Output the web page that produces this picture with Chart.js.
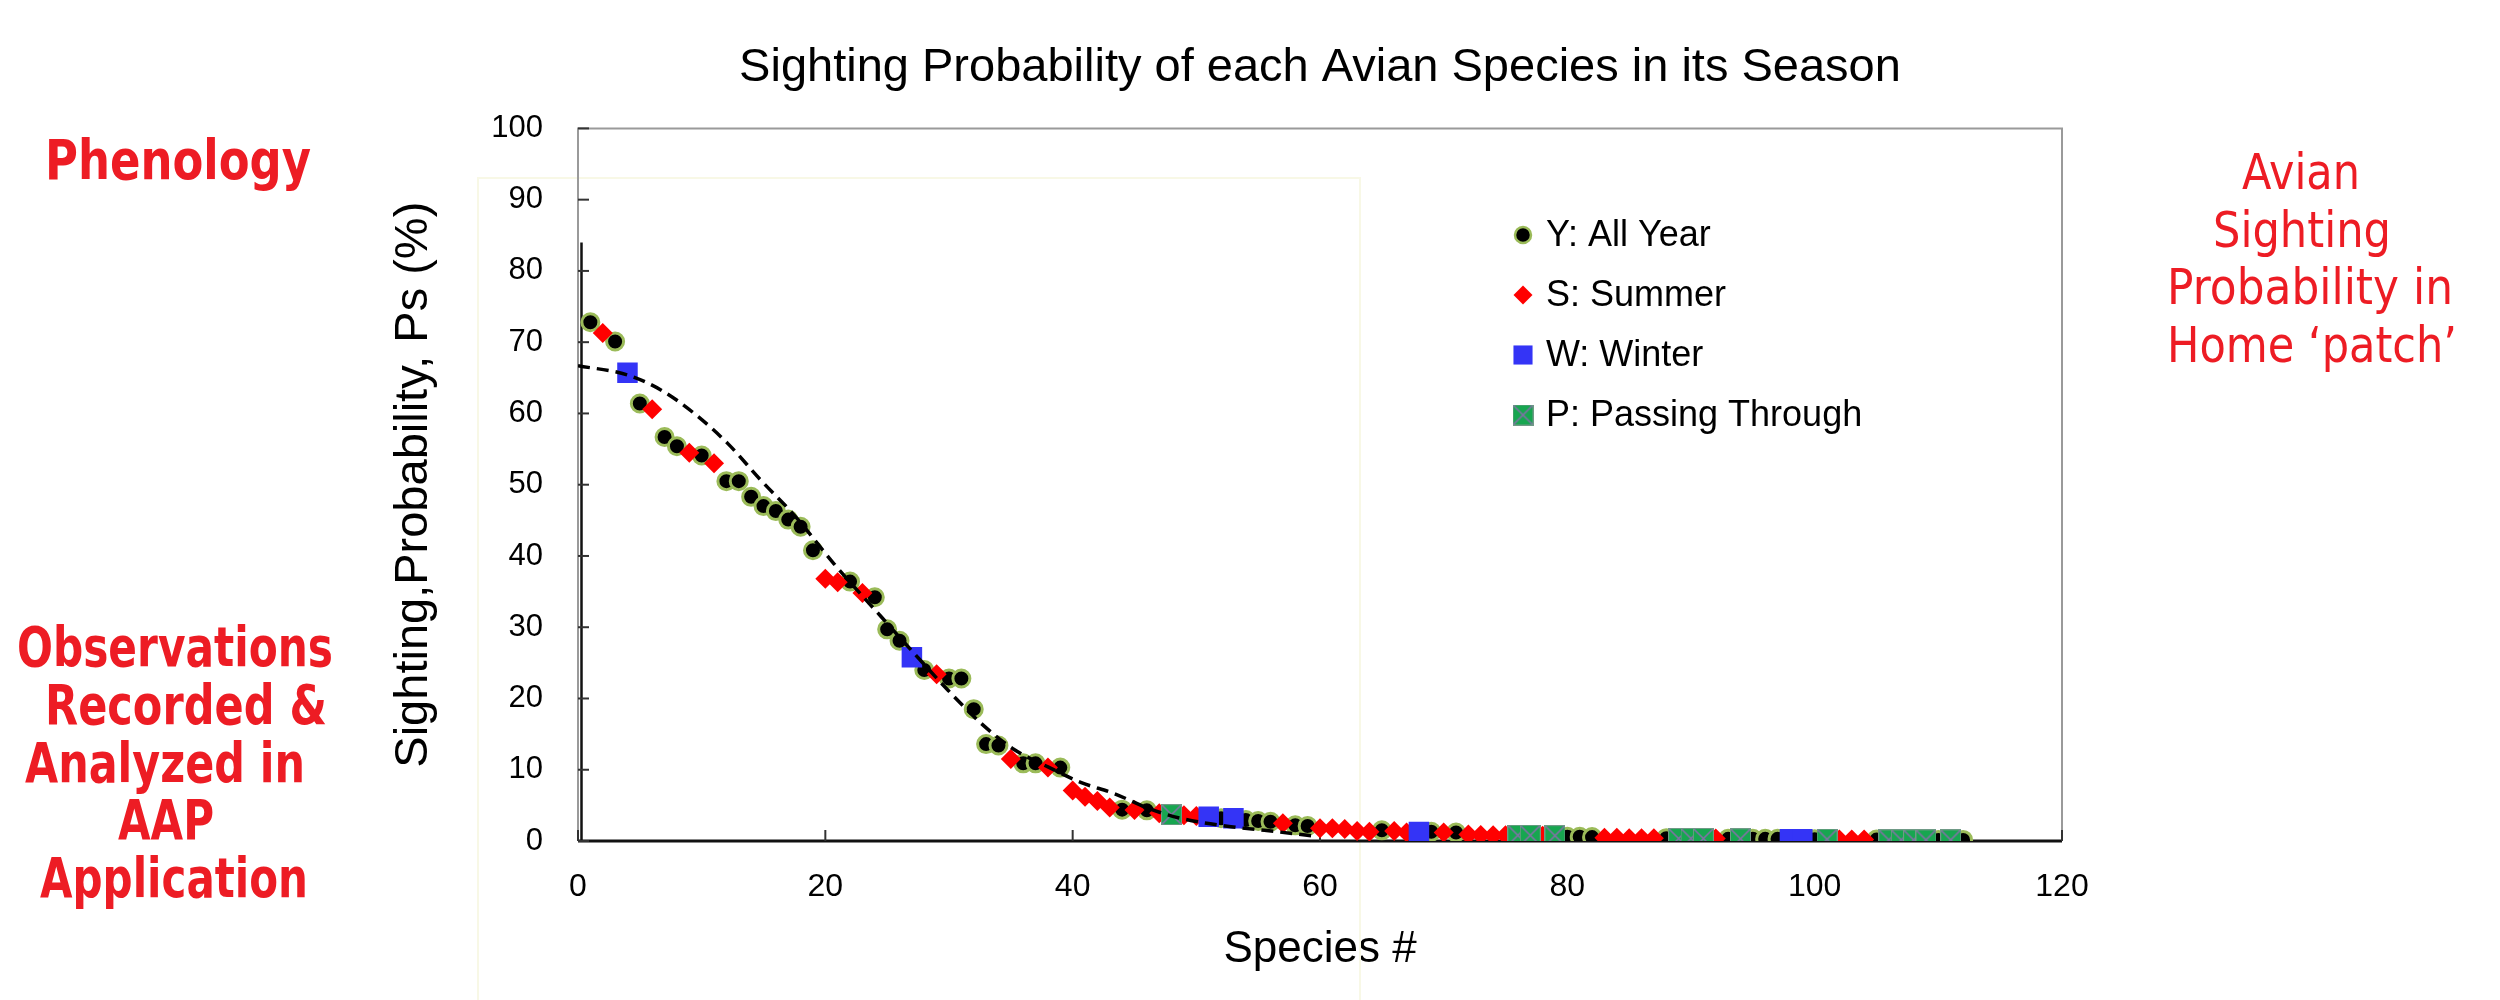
<!DOCTYPE html>
<html>
<head>
<meta charset="utf-8">
<title>Sighting Probability</title>
<script src="https://cdn.jsdelivr.net/npm/chart.js@4.4.1/dist/chart.umd.min.js"></script>
<style>
  html, body { margin: 0; padding: 0; background: #fff; }
  #wrap { width: 2500px; height: 1000px; }
</style>
</head>
<body>
<div id="wrap"><canvas id="chart" width="2500" height="1000"></canvas></div>
<script>
// species # and sighting probability (%) per season group
const yearSpecies = [1, 3, 5, 7, 8, 10, 12, 13, 14, 15, 16, 17, 18, 19, 22, 24, 25, 26, 28, 30, 31, 32, 33, 34, 36, 37, 39, 44, 46, 52, 54, 55, 56, 58, 59, 65, 69, 71, 80, 81, 82, 88, 93, 95, 96, 97, 100, 105, 110, 112];
const yearProb = [72.8, 70.1, 61.4, 56.7, 55.4, 54.1, 50.5, 50.5, 48.3, 47.0, 46.3, 45.1, 44.1, 40.8, 36.4, 34.2, 29.7, 28.1, 24.0, 22.8, 22.8, 18.5, 13.6, 13.4, 10.9, 10.9, 10.3, 4.4, 4.3, 3.2, 2.95, 2.8, 2.7, 2.2, 2.1, 1.5, 1.3, 1.2, 0.6, 0.6, 0.55, 0.4, 0.3, 0.3, 0.3, 0.3, 0.25, 0.2, 0.15, 0.15];

const summerSpecies = [2, 6, 9, 11, 20, 21, 23, 29, 35, 38, 40, 41, 42, 43, 45, 47, 49, 50, 57, 60, 61, 62, 63, 64, 66, 67, 70, 72, 73, 74, 75, 78, 83, 84, 85, 86, 87, 92, 102, 103, 104];
const summerProb = [71.3, 60.6, 54.5, 53.0, 36.8, 36.3, 34.8, 23.4, 11.5, 10.3, 7.1, 6.2, 5.6, 4.7, 4.35, 3.9, 3.6, 3.5, 2.5, 1.8, 1.8, 1.7, 1.4, 1.3, 1.4, 1.2, 1.2, 0.9, 0.85, 0.8, 0.8, 0.75, 0.45, 0.45, 0.4, 0.4, 0.4, 0.35, 0.2, 0.2, 0.2];

const winterSpecies = [4, 27, 51, 53, 68, 98, 99];
const winterProb = [65.7, 25.8, 3.4, 3.2, 1.25, 0.25, 0.25];

const passSpecies = [48, 76, 77, 79, 89, 90, 91, 94, 101, 106, 107, 108, 109, 111];
const passProb = [3.7, 0.8, 0.8, 0.75, 0.35, 0.35, 0.35, 0.3, 0.25, 0.15, 0.15, 0.15, 0.15, 0.15];

// dashed trend line
const trendX = [0, 4, 6.7, 9.4, 12.1, 14.8, 17.5, 20.7, 24.5, 27.2, 29.9, 32.6, 35.3, 38, 40.7, 43.3, 46.1, 48.7, 52.8, 55.5, 59.5];
const trendY = [66.7, 65.4, 63.3, 60.0, 55.8, 50.6, 45.7, 38.9, 31.5, 26.3, 21.2, 16.5, 12.8, 10.4, 8.2, 6.7, 4.6, 3.2, 2.0, 1.5, 0.7];

const xTicks = [0, 20, 40, 60, 80, 100, 120];
const yTicks = [0, 10, 20, 30, 40, 50, 60, 70, 80, 90, 100];

const toPoints = (xs, ys) => xs.map((x, i) => ({x: x, y: ys[i]}));

function passMarker(size) {
    const c = document.createElement('canvas');
    c.width = size;
    c.height = size;
    const g = c.getContext('2d');
    g.fillStyle = '#17a650';
    g.fillRect(0, 0, size, size);
    g.strokeStyle = '#8470a8';
    g.lineWidth = 1.6;
    g.beginPath();
    g.moveTo(1, 1); g.lineTo(size - 1, size - 1);
    g.moveTo(size - 1, 1); g.lineTo(1, size - 1);
    g.stroke();
    g.strokeStyle = '#6f9a86';
    g.lineWidth = 1;
    g.strokeRect(0.5, 0.5, size - 1, size - 1);
    return c;
}
const passImg = passMarker(21);

const redText = '#ed1c24';

const decor = {
    id: 'decor',
    beforeDatasetsDraw(chart) {
        const {ctx, chartArea: a, scales: {x, y}} = chart;
        ctx.save();
        // faint frame left over behind the plot
        ctx.strokeStyle = '#f8f8e6';
        ctx.lineWidth = 2;
        ctx.strokeRect(478, 178, 882, 840);
        // plot box
        ctx.strokeStyle = '#9a9a9a';
        ctx.lineWidth = 2;
        ctx.beginPath();
        ctx.moveTo(a.left, a.bottom);
        ctx.lineTo(a.left, a.top);
        ctx.lineTo(a.right, a.top);
        ctx.lineTo(a.right, a.bottom);
        ctx.stroke();
        // x axis
        ctx.strokeStyle = '#111';
        ctx.lineWidth = 3;
        ctx.beginPath();
        ctx.moveTo(a.left, a.bottom);
        ctx.lineTo(a.right, a.bottom);
        ctx.stroke();
        // inner y axis line
        const ix = x.getPixelForValue(0) + 3.5;
        ctx.lineWidth = 2.5;
        ctx.beginPath();
        ctx.moveTo(ix, y.getPixelForValue(84));
        ctx.lineTo(ix, a.bottom);
        ctx.stroke();
        // inward ticks
        ctx.strokeStyle = '#333';
        ctx.lineWidth = 2;
        y.ticks.forEach(t => {
            const py = y.getPixelForValue(t.value);
            ctx.beginPath();
            ctx.moveTo(a.left, py);
            ctx.lineTo(a.left + 11, py);
            ctx.stroke();
        });
        x.ticks.forEach(t => {
            const px = x.getPixelForValue(t.value);
            ctx.beginPath();
            ctx.moveTo(px, a.bottom);
            ctx.lineTo(px, a.bottom - 11);
            ctx.stroke();
        });
        ctx.restore();
    },
    afterDraw(chart) {
        const ctx = chart.ctx;
        ctx.save();
        // legend inside the plot
        const sizes = [8, 9.5, 13.5, 10];
        for (let i = 0; i < 4; i++) {
            const ds = chart.data.datasets[i];
            const ly = 235 + i * 60;
            ctx.fillStyle = ds.backgroundColor;
            ctx.strokeStyle = ds.borderColor || ds.backgroundColor;
            ctx.lineWidth = i === 0 ? 2.5 : 0;
            Chart.helpers.drawPoint(ctx, {
                pointStyle: ds.pointStyle,
                rotation: 0,
                radius: sizes[i],
                borderWidth: i === 0 ? 2.5 : 0
            }, 1523, ly);
            ctx.fillStyle = '#000';
            ctx.font = "36px 'Liberation Sans', Arial, sans-serif";
            ctx.textAlign = 'left';
            ctx.textBaseline = 'middle';
            ctx.fillText(ds.label, 1546, ly + 1);
        }
        // red side notes
        ctx.fillStyle = redText;
        ctx.textAlign = 'center';
        ctx.textBaseline = 'alphabetic';
        ctx.font = "bold 56px 'DejaVu Sans', sans-serif";
        ctx.fillText('Phenology', 178, 179, 266);
        const leftLines = [
            ['Observations', 175, 666, 316],
            ['Recorded &', 186, 724, 282],
            ['Analyzed in', 165, 782, 280],
            ['AAP', 166, 839, 96],
            ['Application', 174, 897, 268]
        ];
        leftLines.forEach(l => ctx.fillText(l[0], l[1], l[2], l[3]));
        ctx.font = "49px 'DejaVu Sans', sans-serif";
        const rightLines = [
            ['Avian', 2301, 189, 118],
            ['Sighting', 2302, 247, 178],
            ['Probability in', 2310, 304, 286],
            ['Home \u2018patch\u2019', 2312, 362, 290]
        ];
        rightLines.forEach(l => ctx.fillText(l[0], l[1], l[2], l[3]));
        ctx.restore();
    }
};

Chart.defaults.font.family = "'Liberation Sans', Arial, sans-serif";
Chart.defaults.color = '#000';

const ctx = document.getElementById('chart').getContext('2d');
const myChart = new Chart(ctx, {
    type: 'scatter',
    data: {
        datasets: [{
            label: 'Y: All Year',
            data: toPoints(yearSpecies, yearProb),
            pointStyle: 'circle',
            backgroundColor: '#000',
            borderColor: '#9bbb59',
            borderWidth: 3,
            pointRadius: 8.5,
            order: 4
        }, {
            label: 'S: Summer',
            data: toPoints(summerSpecies, summerProb),
            pointStyle: 'rectRot',
            backgroundColor: '#ff0000',
            borderWidth: 0,
            pointRadius: 10,
            order: 3
        }, {
            label: 'W: Winter',
            data: toPoints(winterSpecies, winterProb),
            pointStyle: 'rect',
            backgroundColor: '#3434f6',
            borderWidth: 0,
            pointRadius: 14.5,
            order: 2
        }, {
            label: 'P: Passing Through',
            data: toPoints(passSpecies, passProb),
            pointStyle: passImg,
            backgroundColor: '#17a650',
            borderWidth: 0,
            pointRadius: 10,
            order: 1
        }, {
            label: 'trend',
            data: toPoints(trendX, trendY),
            showLine: true,
            borderColor: '#000',
            borderWidth: 3.5,
            borderDash: [12, 7],
            pointRadius: 0,
            cubicInterpolationMode: 'monotone',
            fill: false,
            order: 0
        }]
    },
    options: {
        responsive: false,
        devicePixelRatio: 1,
        animation: false,
        layout: {
            padding: {left: 386, right: 438, top: 0, bottom: 0}
        },
        plugins: {
            legend: {display: false},
            tooltip: {enabled: false},
            title: {
                display: true,
                text: 'Sighting Probability of each Avian Species in its Season',
                fullSize: false,
                color: '#000',
                font: {size: 47, weight: 'normal'},
                padding: {top: 40, bottom: 32}
            }
        },
        scales: {
            x: {
                type: 'linear',
                min: 0,
                max: 120,
                afterBuildTicks: s => { s.ticks = xTicks.map(v => ({value: v})); },
                grid: {display: false, drawTicks: false},
                border: {display: false},
                ticks: {font: {size: 32}, padding: 27, color: '#000'},
                title: {
                    display: true,
                    text: 'Species #',
                    font: {size: 44},
                    color: '#000',
                    padding: {top: 0, bottom: 24}
                },
                afterFit: s => { s.height = 159; }
            },
            y: {
                type: 'linear',
                min: 0,
                max: 100,
                afterBuildTicks: s => { s.ticks = yTicks.map(v => ({value: v})); },
                grid: {display: false, drawTicks: false},
                border: {display: false},
                ticks: {
                    font: {size: 31},
                    padding: 35,
                    color: '#000'
                },
                title: {
                    display: true,
                    text: 'Sighting,Probability, Ps (%)',
                    font: {size: 47},
                    color: '#000',
                    padding: 0
                },
                afterFit: s => { s.width = 192; }
            }
        }
    },
    plugins: [decor]
});
</script>
</body>
</html>
